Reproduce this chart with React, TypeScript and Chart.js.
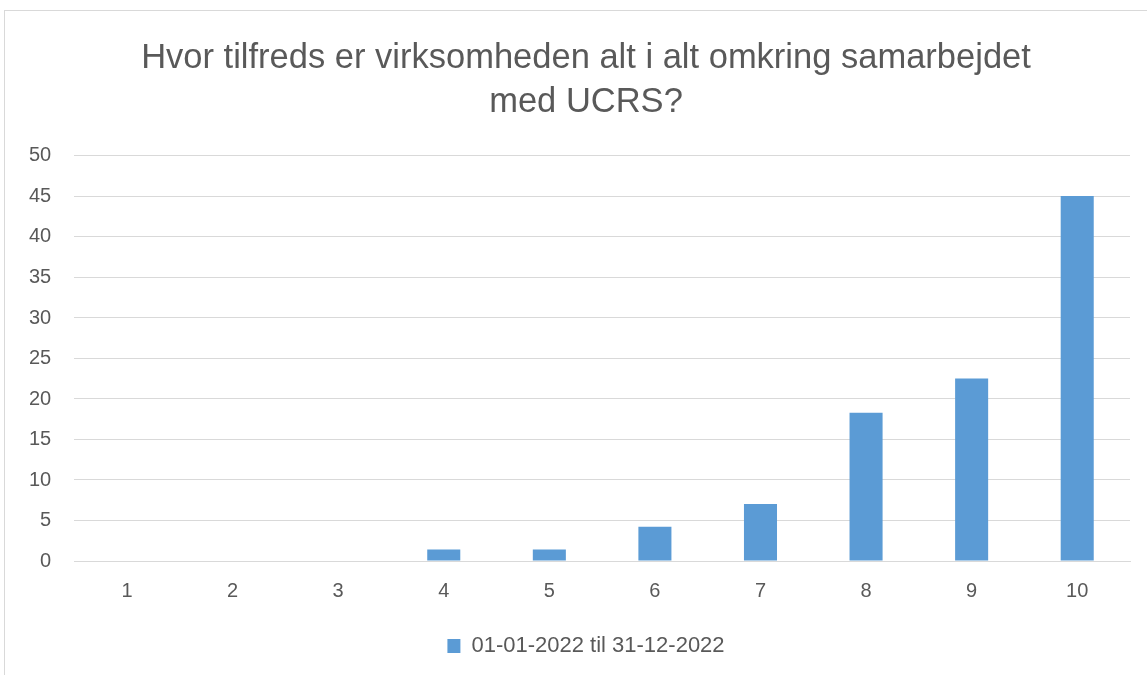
import React, { useEffect, useRef } from "react";
import { Chart, registerables } from "chart.js";

Chart.register(...registerables);

const categories = ["1", "2", "3", "4", "5", "6", "7", "8", "9", "10"];
const seriesLabel = "01-01-2022 til 31-12-2022";
const seriesValues = [0, 0, 0, 1.41, 1.41, 4.23, 7.04, 18.31, 22.54, 45.07];
const titleLines = ["Hvor tilfreds er virksomheden alt i alt omkring samarbejdet", "med UCRS?"];
const yMin = 0;
const yMax = 50;
const yStep = 5;

const FONT = "'Liberation Sans', 'DejaVu Sans', sans-serif";
const CANVAS_W = 1174;
const CANVAS_H = 675;

export default function App() {
  const ref = useRef<HTMLCanvasElement>(null);
  useEffect(() => {
    if (!ref.current) return;
    const chart = new Chart(ref.current, {
      type: "bar",
      data: {
        labels: categories,
        datasets: [
          {
            label: seriesLabel,
            data: seriesValues,
            backgroundColor: "#5b9bd5",
            borderWidth: 0,
            categoryPercentage: 1,
            barPercentage: 0.313,
          },
        ],
      },
      options: {
        animation: false,
        responsive: false,
        maintainAspectRatio: false,
        layout: { padding: { left: 6, right: 8, top: 10, bottom: 8 } },
        plugins: {
          title: {
            display: true,
            text: titleLines,
            color: "#595959",
            font: { family: FONT, size: 34.5, weight: "normal", lineHeight: 1.275 },
            padding: { top: 26.5, bottom: 31.5 },
          },
          legend: {
            position: "bottom",
            labels: {
              color: "#595959",
              font: { family: FONT, size: 22 },
              boxWidth: 13,
              boxHeight: 14,
              padding: 12,
            },
          },
          tooltip: { enabled: false },
        },
        scales: {
          x: {
            grid: { display: false, drawTicks: false },
            border: { display: true, color: "#d9d9d9", width: 1 },
            ticks: { color: "#595959", font: { family: FONT, size: 20 }, padding: 18 },
            afterFit: (s: any) => {
              s.height += 2;
            },
          },
          y: {
            min: yMin,
            max: yMax,
            ticks: { stepSize: yStep, color: "#595959", font: { family: FONT, size: 20 }, padding: 23 },
            grid: { color: "#d9d9d9", lineWidth: 1, drawTicks: false },
            border: { display: false },
          },
          yRight: {
            type: "linear",
            position: "right",
            display: true,
            ticks: { display: false },
            grid: { display: false, drawTicks: false },
            border: { display: false },
            afterFit: (s: any) => {
              s.width = 36;
            },
          },
        },
      },
    });
    return () => chart.destroy();
  }, []);
  return (
    <div style={{ position: "fixed", left: 0, top: 0, width: 1147, height: 675, background: "#fff", overflow: "hidden" }}>
      <div style={{ position: "absolute", left: 4, top: 10, width: 1180, height: 700, border: "1px solid #d9d9d9", boxSizing: "border-box" }} />
      <canvas ref={ref} width={CANVAS_W} height={CANVAS_H} style={{ position: "absolute", left: 0, top: 0 }} />
    </div>
  );
}
